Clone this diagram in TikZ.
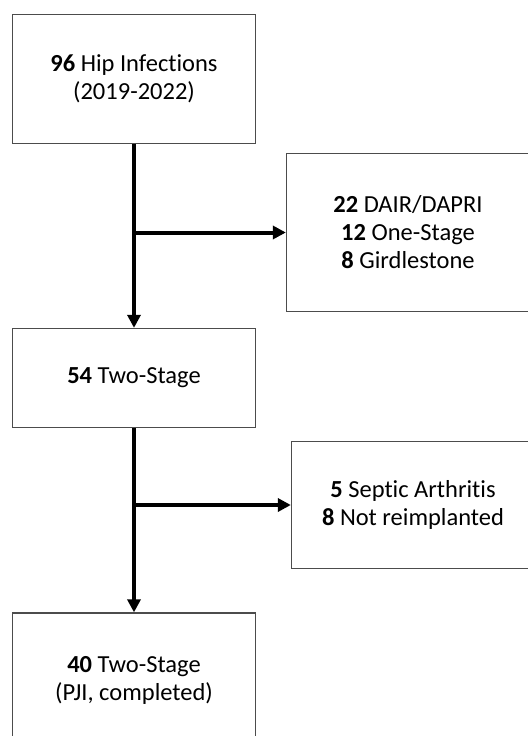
\documentclass[tikz,border=0pt]{standalone}
\usepackage{fontspec}
\setmainfont{Carlito}[Ligatures=NoCommon]
\usepackage{tikz}
\usetikzlibrary{arrows.meta,positioning}

\tikzset{
  flowbox/.style={draw=black!70, line width=1.3bp, fill=white, minimum width=243bp, align=center, font=\fontsize{24.5bp}{28bp}\selectfont},
  flowarrow/.style={line width=4bp, -{Triangle[length=13bp,width=13bp]}},
  flowline/.style={line width=4bp}
}

\begin{document}
\begin{tikzpicture}[x=1bp,y=-1bp]
        \useasboundingbox (0,0) rectangle (528,736);
        \clip (0,0) rectangle (528,736);
        % Boxes
        \node[flowbox, minimum height=129bp] (infections) at (134,79) {\textbf{96} Hip Infections\\(2019-2022)};
        \node[flowbox, minimum height=158bp] (excluded) at (408,232.5) {\textbf{22} DAIR/DAPRI\\\textbf{12} One-Stage\\\textbf{8} Girdlestone};
        \node[flowbox, minimum height=99bp] (twostage) at (134,378) {\textbf{54} Two-Stage};
        \node[flowbox, minimum height=127bp] (notreimpl) at (413,505) {\textbf{5} Septic Arthritis\\\textbf{8} Not reimplanted};
        \node[flowbox, minimum height=134bp] (completed) at (134,680) {\textbf{40} Two-Stage\\(PJI, completed)};
        % Branch points
        \coordinate (split1) at (134,232.5);
        \coordinate (split2) at (134,505);
        % Arrows
        \draw[flowarrow] (infections.south) -- (twostage.north);
        \draw[flowarrow] (split1) -- (excluded.west);
        \draw[flowarrow] (twostage.south) -- (completed.north);
        \draw[flowarrow] (split2) -- (notreimpl.west);
    \end{tikzpicture}
\end{document}
